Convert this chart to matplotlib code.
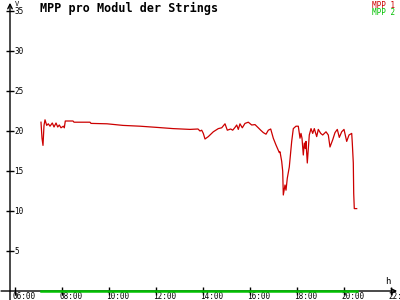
import matplotlib
matplotlib.use('Agg')
import matplotlib.pyplot as plt
import matplotlib.transforms as mtrans

# MPP pro Modul der Strings - Spannung je Modul (V) ueber den Tag (h)
hours_1 = [7.106, 7.149, 7.191, 7.234, 7.277, 7.349, 7.417, 7.489, 7.587, 7.660,
           7.745, 7.817, 7.885, 7.957, 8.055, 8.098, 8.140, 8.468, 8.511, 9.191,
           9.234, 9.915, 10.596, 11.319, 12.043, 12.723, 13.447, 13.787, 13.872, 13.945,
           14.013, 14.085, 14.226, 14.438, 14.651, 14.796, 14.936, 15.034, 15.179, 15.264,
           15.362, 15.434, 15.502, 15.574, 15.672, 15.787, 15.928, 16.072, 16.213, 16.353,
           16.455, 16.566, 16.681, 16.779, 16.881, 16.991, 17.106, 17.247, 17.277, 17.349,
           17.391, 17.417, 17.489, 17.532, 17.587, 17.672, 17.774, 17.843, 17.957, 18.055,
           18.128, 18.170, 18.213, 18.268, 18.311, 18.353, 18.383, 18.438, 18.523, 18.596,
           18.668, 18.736, 18.838, 18.906, 19.009, 19.094, 19.234, 19.332, 19.404, 19.519,
           19.617, 19.715, 19.800, 19.902, 20.000, 20.115, 20.213, 20.328, 20.353, 20.396,
           20.413, 20.438, 20.540]
mpp_1 = [21.1, 19.1, 18.2, 20.7, 21.4, 20.7, 20.9, 20.6, 21.0, 20.5,
         21.0, 20.5, 20.75, 20.4, 20.6, 20.4, 21.25, 21.25, 21.1, 21.1,
         20.95, 20.9, 20.7, 20.6, 20.45, 20.3, 20.2, 20.25, 20.0, 20.1,
         19.7, 19.0, 19.3, 19.9, 20.3, 20.4, 20.9, 20.1, 20.25, 20.1,
         20.45, 20.75, 20.2, 20.9, 20.4, 20.95, 21.1, 20.75, 20.8, 20.4,
         20.1, 19.8, 19.6, 20.1, 20.25, 19.1, 18.25, 17.3, 17.4, 16.2,
         15.0, 12.0, 13.25, 12.6, 14.1, 15.5, 18.7, 20.3, 20.6, 20.6,
         19.1, 19.7, 19.1, 17.0, 18.5, 17.8, 18.7, 16.0, 19.5, 20.3,
         19.7, 20.3, 19.3, 20.2, 19.7, 19.5, 19.9, 19.5, 18.0, 18.9,
         19.8, 20.2, 19.2, 19.9, 20.2, 18.7, 19.5, 19.7, 18.5, 16.0,
         12.2, 10.3, 10.3]

hours_2 = [7.106, 20.540]
mpp_2 = [0.0, 0.0]

y_ticks = [5, 10, 15, 20, 25, 30, 35]
x_ticks = [6, 8, 10, 12, 14, 16, 18, 20, 22]
x_labels = ['06:00', '08:00', '10:00', '12:00', '14:00', '16:00', '18:00', '20:00', '22:']

red = '#cc0000'
green = '#00c000'
mono = 'DejaVu Sans Mono'

fig = plt.figure(figsize=(4, 3), dpi=100)
ax = fig.add_axes([10 / 400, 9 / 300, 390 / 400, 291 / 300])
ax.set_xlim(5.787, 22.383)
ax.set_ylim(0, 36.375)
ax.patch.set_alpha(0)

for s in ax.spines.values():
    s.set_visible(False)

# axes with arrow heads
ax.annotate('', xy=(1.0, 0), xytext=(-0.03, 0), xycoords='axes fraction',
            arrowprops=dict(arrowstyle='->', color='black', lw=1, mutation_scale=8),
            zorder=2)
ax.annotate('', xy=(0, 1.0), xytext=(0, -0.04), xycoords='axes fraction',
            arrowprops=dict(arrowstyle='->', color='black', lw=1, mutation_scale=8),
            zorder=2)

ax.plot(hours_2, mpp_2, color=green, lw=1.8, zorder=5, clip_on=False)
ax.plot(hours_1, mpp_1, color=red, lw=0.9, zorder=5)

ax.set_xticks(x_ticks)
ax.set_xticklabels(x_labels, fontsize=5.5, family=mono, ha='left')
ax.set_yticks(y_ticks)
ax.set_yticklabels([str(v) for v in y_ticks], fontsize=5.5, family=mono, ha='left')
ax.tick_params(axis='x', direction='inout', length=6, width=1, pad=-1)
ax.tick_params(axis='y', direction='inout', length=6, width=1, pad=0)

x_off = mtrans.ScaledTranslation(-3 / 100, 1.5 / 100, fig.dpi_scale_trans)
for lab in ax.get_xticklabels():
    lab.set_transform(lab.get_transform() + x_off)
y_off = mtrans.ScaledTranslation(8.5 / 100, 0, fig.dpi_scale_trans)
for lab in ax.get_yticklabels():
    lab.set_transform(lab.get_transform() + y_off)

fig.text(15 / 400, 1 - 4 / 300, 'V', fontsize=5, family=mono, va='center')
fig.text(385 / 400, 1 - 281 / 300, 'h', fontsize=6.5, family=mono, va='center')
fig.text(40 / 400, 1 - 8 / 300, 'MPP pro Modul der Strings', fontsize=8.5,
         family=mono, fontweight='bold', va='center')
fig.text(395 / 400, 1 - 5 / 300, 'MPP 1', fontsize=5.5, family=mono, color=red,
         ha='right', va='center')
fig.text(395 / 400, 1 - 12.5 / 300, 'MPP 2', fontsize=5.5, family=mono, color=green,
         ha='right', va='center')

fig.savefig('out.png', dpi=100, facecolor='white')
